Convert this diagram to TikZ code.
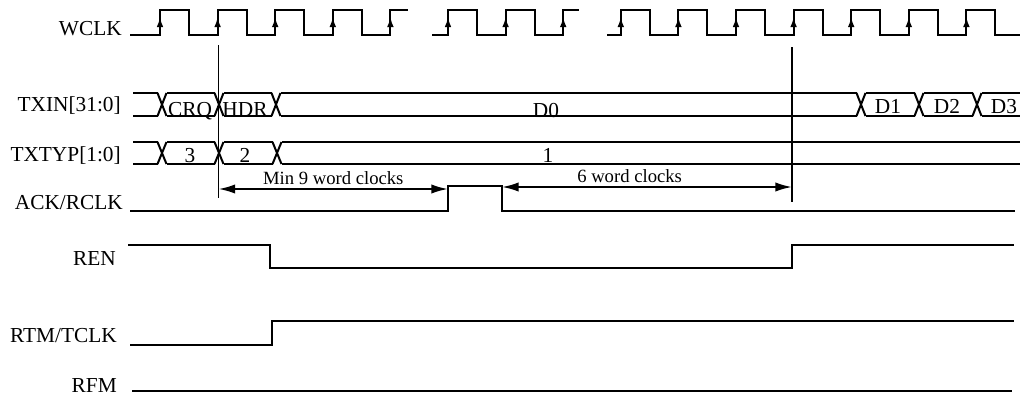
\documentclass[tikz,border=0pt]{standalone}
\usepackage{fontspec}
\setmainfont{Liberation Serif}
\usetikzlibrary{arrows.meta}

\tikzset{
  wave/.style={line width=1.5pt},
  signame/.style={anchor=base east,inner sep=0pt,font=\fontsize{16}{18}\selectfont},
  buslabel/.style={anchor=base,inner sep=0pt,font=\fontsize{16}{18}\selectfont},
  gaplabel/.style={anchor=base,inner sep=0pt,font=\fontsize{14}{16}\selectfont},
  riseedge/.style={-{Latex[length=7.5pt,width=5pt]},line width=1.5pt},
  span/.style={{Latex[length=12.5pt,width=7pt]}-{Latex[length=12.5pt,width=7pt]},line width=1.5pt},
}

\begin{document}
\begin{tikzpicture}[x=0.75pt,y=-0.75pt]
\useasboundingbox (0,0) rectangle (1020,396);

% Signal names
\node[signame] (wclk) at (122,36) {WCLK};
\node[signame] (txin) at (121,111) {TXIN[31:0]};
\node[signame] (txtyp) at (121,161) {TXTYP[1:0]};
\node[signame] (ack) at (123,209) {ACK/RCLK};
\node[signame] (ren) at (116,265) {REN};
\node[signame] (rtm) at (117,342) {RTM/TCLK};
\node[signame] (rfm) at (117,392) {RFM};

% Word clock, drawn in three pieces
\draw[wave] (130,35) foreach \k in {0,...,3}
  { -| ({160+57.6*\k},10) -| ({189+57.6*\k},35) } -| (390.4,10) -- (408,10);
\draw[wave] (432,35) foreach \k in {5,6}
  { -| ({160+57.6*\k},10) -| ({189+57.6*\k},35) } -| (563.2,10) -- (579,10);
\draw[wave] (607,35) foreach \k in {8,...,14}
  { -| ({160+57.6*\k},10) -| ({189+57.6*\k},35) } -- (1020,35);
\foreach \k in {0,...,14}
  \draw[riseedge] ({160+57.6*\k},30) -- ({160+57.6*\k},17);

% TXIN bus
\foreach \a/\b in {133/157.5,166.5/214.5,223.5/271.5,280.5/856.5,865.5/914.5,923.5/972.5,981.5/1020}
  \draw[wave] (\a,93) -- (\b,93) (\a,116) -- (\b,116);
\foreach \c in {162,219,276,861,919,977}
  \draw[wave] (\c-4.5,93) -- (\c+4.5,116) (\c-4.5,116) -- (\c+4.5,93);
\node[buslabel] (crq) at (190,116) {CRQ};
\node[buslabel] (hdr) at (245,116) {HDR};
\node[buslabel] (d0) at (546,117) {D0};
\node[buslabel] (d1) at (888,113) {D1};
\node[buslabel] (d2) at (947,113) {D2};
\node[buslabel] (d3) at (1004,113) {D3};

% TXTYP bus
\foreach \a/\b in {133/157.5,166.5/214.5,223.5/272.5,281.5/1020}
  \draw[wave] (\a,142) -- (\b,142) (\a,164) -- (\b,164);
\foreach \c in {162,219,277}
  \draw[wave] (\c-4.5,142) -- (\c+4.5,164) (\c-4.5,164) -- (\c+4.5,142);
\node[buslabel] (typ3) at (190,162) {3};
\node[buslabel] (typ2) at (245,162) {2};
\node[buslabel] (typ1) at (548,162) {1};

% ACK/RCLK pulse
\draw[wave] (130,211) -| (448,186) coordinate (ackup)
  -| (502,211) coordinate (ackdown) -- (1015,211);

% REN, RTM/TCLK, RFM
\draw[wave] (128,245) -| (270,268) -| (792,245) -- (1014,245);
\draw[wave] (130,345) -| (272,321) -- (1014,321);
\draw[wave] (132,391) -- (1012,391);

% Cursors
\coordinate (c1) at (218.5,189);
\coordinate (c2) at (792,187);
\draw[line width=0.7pt] (218.5,45) -- (218.5,198);
\draw[line width=1.5pt] (792,47) -- (792,202);

% Gap arrows
\coordinate (ackl) at (448,189);
\coordinate (ackr) at (502,187);
\draw[span] (c1) -- node[gaplabel,midway,yshift=3.2pt] {Min 9 word clocks} (ackl);
\draw[span] (ackr) -- node[gaplabel,pos=0.44,yshift=3.2pt] {6 word clocks} (c2);
\end{tikzpicture}
\end{document}
